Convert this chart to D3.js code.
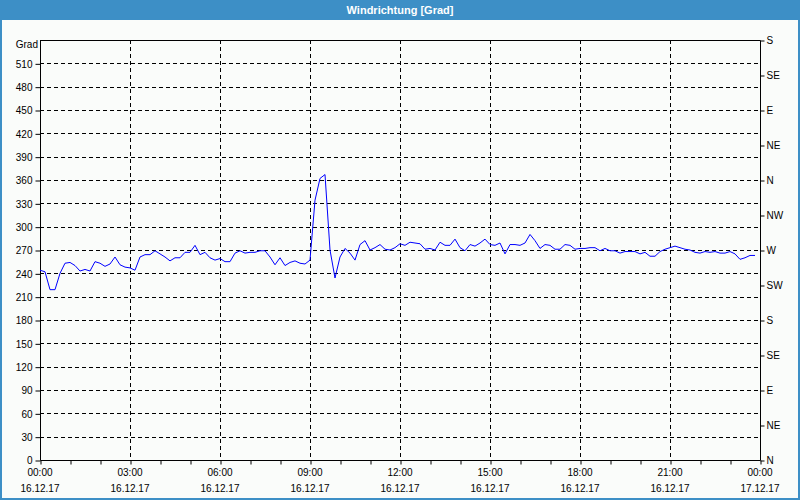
<!DOCTYPE html>
<html>
<head>
<meta charset="utf-8">
<script src="https://cdn.jsdelivr.net/npm/d3@7"></script>
<style>
  html, body { margin: 0; padding: 0; background: #fafcfa; }
  svg { display: block; }
  text { font-family: "Liberation Sans", Arial, sans-serif; }
</style>
</head>
<body>
<svg id="chart" width="800" height="500"></svg>
<script>
// ---- Data ----
const chartTitle = "Windrichtung [Grad]";
const yUnit = "Grad";
const startTime = "2017-12-16T00:00:00";
const endTime = "2017-12-17T00:00:00";
const stepMinutes = 10;
// wind direction in degrees, one value per 10 minutes from 16.12.17 00:00
const windDirection = [
  244, 242, 219, 219, 240, 253, 254, 250, 243, 245,
  243, 255, 253, 249, 252, 261, 251, 248, 247, 244,
  261, 264, 264, 269, 265, 261, 256, 260, 260, 267,
  267, 276, 264, 267, 260, 257, 259, 255, 255, 266,
  269, 266, 267, 267, 269, 269, 261, 251, 260, 250,
  254, 256, 253, 252, 257, 334, 362, 367, 270, 234,
  261, 272, 266, 257, 277, 282, 270, 273, 277, 271,
  270, 273, 278, 276, 280, 279, 278, 271, 272, 270,
  280, 276, 276, 284, 273, 269, 277, 275, 279, 284,
  277, 276, 279, 265, 277, 277, 276, 279, 290, 282,
  272, 277, 276, 271, 271, 277, 276, 271, 272, 272,
  273, 273, 269, 272, 269, 269, 266, 268, 268, 268,
  265, 267, 262, 262, 268, 271, 273, 275, 273, 271,
  270, 267, 266, 268, 267, 268, 266, 266, 268, 265,
  258, 260, 263, 263
];
const leftTicks = [0, 30, 60, 90, 120, 150, 180, 210, 240, 270, 300, 330, 360, 390, 420, 450, 480, 510];
const rightTicks = [0, 45, 90, 135, 180, 225, 270, 315, 360, 405, 450, 495, 540];
const rightLabels = ["N", "NE", "E", "SE", "S", "SW", "W", "NW", "N", "NE", "E", "SE", "S"];
const xMajorHours = [0, 3, 6, 9, 12, 15, 18, 21, 24];

// ---- Setup ----
const W = 800, H = 500;
const m = { left: 40, right: 40, top: 40, bottom: 40 };
const blue = "#3d8fc6";
const svg = d3.select("#chart");
const t0 = new Date(startTime), t1 = new Date(endTime);
const data = windDirection.map((v, i) => ({ t: new Date(t0.getTime() + i * stepMinutes * 60000), v }));

const x = d3.scaleTime().domain([t0, t1]).range([m.left, W - m.right]);
const y = d3.scaleLinear().domain([0, 540]).range([H - m.bottom, m.top]);

// background + window frame
svg.append("rect").attr("x", 0).attr("y", 0).attr("width", W).attr("height", H).attr("fill", "#fafcfa");
svg.append("rect").attr("x", 1).attr("y", 1).attr("width", W - 2).attr("height", H - 2)
  .attr("fill", "none").attr("stroke", blue).attr("stroke-width", 2);
svg.append("rect").attr("x", 0).attr("y", 0).attr("width", W).attr("height", 20).attr("fill", blue);
svg.append("text").attr("x", W / 2).attr("y", 14).attr("text-anchor", "middle")
  .attr("fill", "#fff").attr("font-size", 11).attr("font-weight", "bold").text(chartTitle);

// grid
const grid = svg.append("g").attr("stroke", "#000").attr("stroke-width", 1).attr("stroke-dasharray", "4,3");
grid.selectAll("line.h").data(leftTicks.filter(d => d > 0)).join("line")
  .attr("x1", m.left).attr("x2", W - m.right)
  .attr("y1", d => Math.round(y(d)) + 0.5).attr("y2", d => Math.round(y(d)) + 0.5);
const hourTime = h => new Date(t0.getTime() + h * 3600000);
grid.selectAll("line.v").data(xMajorHours.filter(h => h > 0 && h < 24)).join("line")
  .attr("x1", h => Math.round(x(hourTime(h))) + 0.5).attr("x2", h => Math.round(x(hourTime(h))) + 0.5)
  .attr("y1", m.top).attr("y2", H - m.bottom);

// frame top line
svg.append("line").attr("x1", m.left).attr("x2", W - m.right + 0.5)
  .attr("y1", m.top + 0.5).attr("y2", m.top + 0.5).attr("stroke", "#000");

// left axis
const yAxisL = d3.axisLeft(y).tickValues(leftTicks).tickSize(5).tickPadding(3).tickFormat(d3.format("d"));
const gL = svg.append("g").attr("transform", `translate(${m.left + 0.5},0.5)`).call(yAxisL);
gL.select(".domain").attr("d", `M0,${m.top}V${H - m.bottom}`);

// right axis
const yAxisR = d3.axisRight(y).tickValues(rightTicks).tickSize(4).tickPadding(2).tickFormat((d, i) => rightLabels[i]);
const gR = svg.append("g").attr("transform", `translate(${W - m.right + 0.5},0.5)`).call(yAxisR);
gR.select(".domain").attr("d", `M0,${m.top}V${H - m.bottom}`);

// bottom axis
const xAxis = d3.axisBottom(x).ticks(d3.timeHour.every(1)).tickSize(4).tickFormat("");
const gB = svg.append("g").attr("transform", `translate(0.5,${H - m.bottom + 0.5})`).call(xAxis);
gB.select(".domain").attr("d", `M${m.left},0H${W - m.right}`);

const fmtTime = d3.timeFormat("%H:%M"), fmtDate = d3.timeFormat("%d.%m.%y");
const xl = svg.append("g");
xl.selectAll("text.tm").data(xMajorHours).join("text")
  .attr("x", h => x(hourTime(h))).attr("y", 476).attr("text-anchor", "middle")
  .attr("font-size", 10).attr("fill", "#000").text(h => fmtTime(hourTime(h)));
xl.selectAll("text.dt").data(xMajorHours).join("text")
  .attr("x", h => x(hourTime(h))).attr("y", 492).attr("text-anchor", "middle")
  .attr("font-size", 10).attr("fill", "#000").text(h => fmtDate(hourTime(h)));

svg.selectAll(".tick text").attr("font-size", 10).attr("fill", "#000").attr("font-family", "Liberation Sans, Arial, sans-serif");
svg.selectAll(".tick line").attr("stroke", "#000");
svg.selectAll(".domain").attr("stroke", "#000");

// unit label
svg.append("text").attr("x", 38).attr("y", 48).attr("text-anchor", "end")
  .attr("font-size", 10).attr("fill", "#000").text(yUnit);

// line
const line = d3.line().x(d => x(d.t)).y(d => y(d.v));
svg.append("path").datum(data).attr("d", line)
  .attr("fill", "none").attr("stroke", "#0000ff").attr("stroke-width", 1);
</script>
</body>
</html>
